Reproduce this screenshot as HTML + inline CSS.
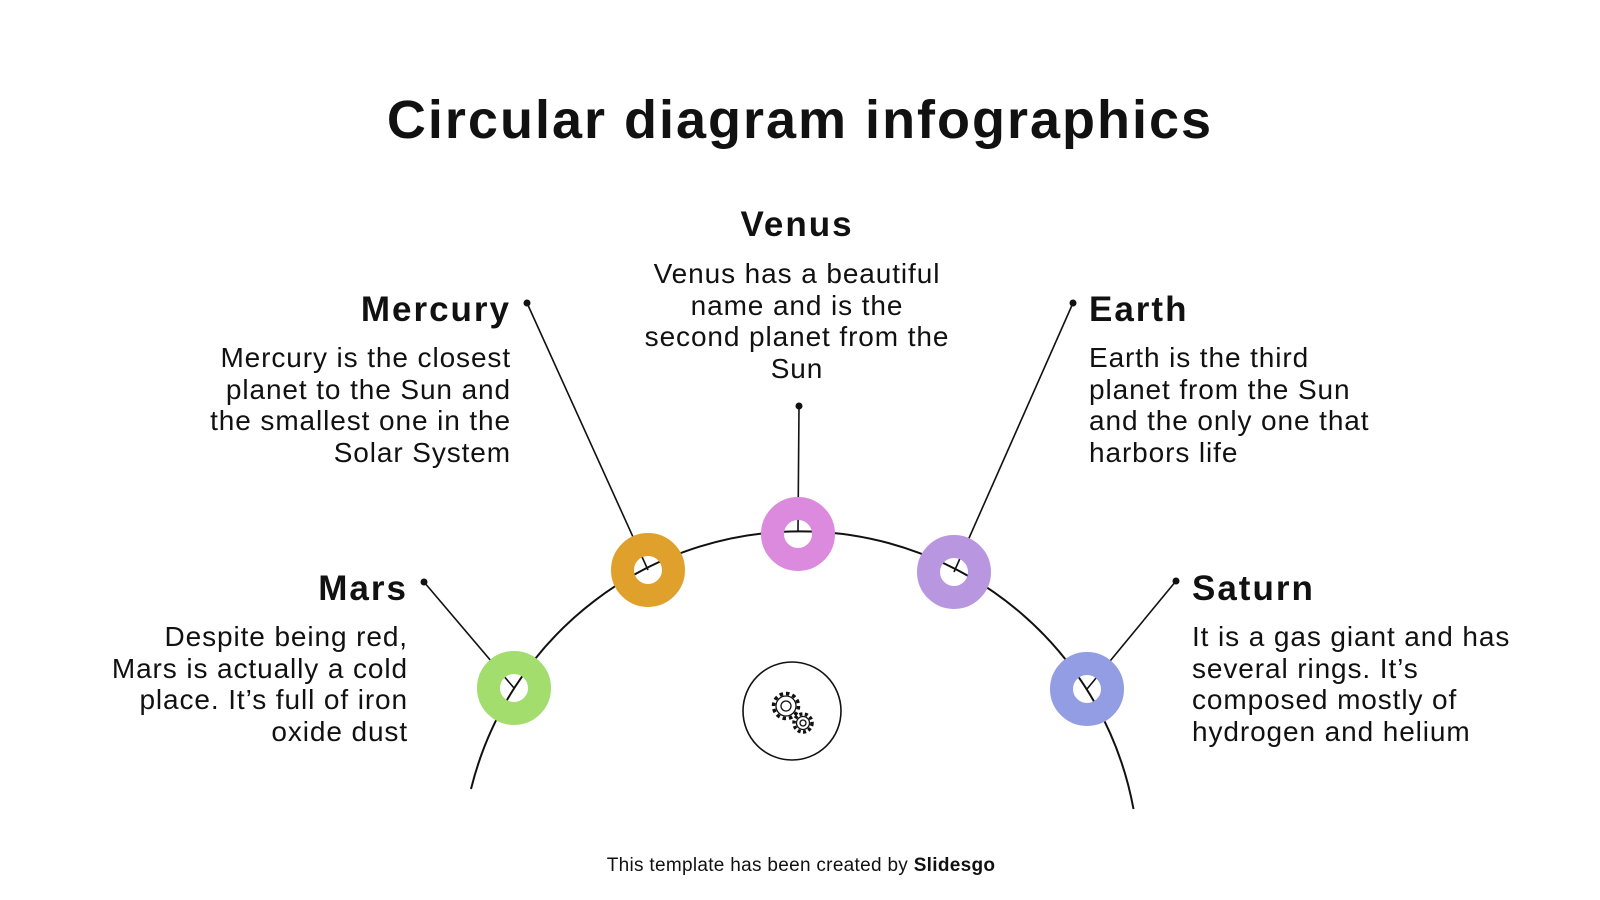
<!DOCTYPE html>
<html><head><meta charset="utf-8"><style>
body{margin:0;width:1600px;height:900px;background:#fff;position:relative;overflow:hidden;font-family:"Liberation Sans",sans-serif;color:#111}
.t{position:absolute;white-space:nowrap}
.h{font-size:35px;font-weight:bold;line-height:40px;letter-spacing:2px}
.b{font-size:28px;line-height:31.5px;letter-spacing:0.9px}
.r{text-align:right}
</style></head><body>
<svg width="1600" height="900" style="position:absolute;left:0;top:0">
<g transform="translate(-4,-2)">
<path d="M475 791 A339 339 0 0 1 1137.5 811" fill="none" stroke="#111" stroke-width="2"/>
<g stroke="#111" stroke-width="1.6">
<line x1="531" y1="305" x2="652" y2="572"/>
<line x1="803" y1="408" x2="802" y2="533"/>
<line x1="1077" y1="305" x2="958" y2="574"/>
<line x1="428" y1="584" x2="518" y2="690"/>
<line x1="1180" y1="583" x2="1091" y2="691"/>
</g>
<g fill="#111"><circle cx="531" cy="305" r="3.5"/><circle cx="803" cy="408" r="3.5"/><circle cx="1077" cy="305" r="3.5"/><circle cx="428" cy="584" r="3.5"/><circle cx="1180" cy="583" r="3.5"/></g>
<g fill="none" stroke-width="23">
<circle cx="652" cy="572" r="25.5" stroke="#e0a02c"/>
<circle cx="802" cy="536" r="25.5" stroke="#dc8ade"/>
<circle cx="958" cy="574" r="25.5" stroke="#b996e0"/>
<circle cx="518" cy="690" r="25.5" stroke="#a3dd6e"/>
<circle cx="1091" cy="691" r="25.5" stroke="#929de3"/>
</g>
<circle cx="796" cy="713" r="49" fill="#fff" stroke="#111" stroke-width="1.6"/>
<g fill="none" stroke="#111" stroke-width="1.3">
<circle cx="790" cy="708" r="10"/><circle cx="790" cy="708" r="5"/>
<circle cx="790" cy="708" r="12.5" stroke-dasharray="3.5 3" stroke-width="3.5"/>
<circle cx="807" cy="725" r="6.5"/><circle cx="807" cy="725" r="3"/>
<circle cx="807" cy="725" r="9" stroke-dasharray="3 2.5" stroke-width="3.5"/>
</g>
</g>
</svg>
<div class="t" style="left:0;width:1600px;text-align:center;top:90px;font-size:54px;font-weight:bold;line-height:60px;letter-spacing:2px">Circular diagram infographics</div>
<div class="t h" style="left:597px;width:400px;text-align:center;top:205px">Venus</div>
<div class="t b" style="left:547px;width:500px;text-align:center;top:258px">Venus has a beautiful<br>name and is the<br>second planet from the<br>Sun</div>
<div class="t h r" style="right:1089px;top:290px">Mercury</div>
<div class="t b r" style="right:1089px;top:342px">Mercury is the closest<br>planet to the Sun and<br>the smallest one in the<br>Solar System</div>
<div class="t h" style="left:1089px;top:290px">Earth</div>
<div class="t b" style="left:1089px;top:342px">Earth is the third<br>planet from the Sun<br>and the only one that<br>harbors life</div>
<div class="t h r" style="right:1192px;top:569px">Mars</div>
<div class="t b r" style="right:1192px;top:621px">Despite being red,<br>Mars is actually a cold<br>place. It’s full of iron<br>oxide dust</div>
<div class="t h" style="left:1192px;top:569px">Saturn</div>
<div class="t b" style="left:1192px;top:621px">It is a gas giant and has<br>several rings. It’s<br>composed mostly of<br>hydrogen and helium</div>
<div class="t" style="left:0;width:1602px;text-align:center;top:855px;font-size:19px;line-height:22px;letter-spacing:0.3px">This template has been created by <b>Slidesgo</b></div>
</body></html>
